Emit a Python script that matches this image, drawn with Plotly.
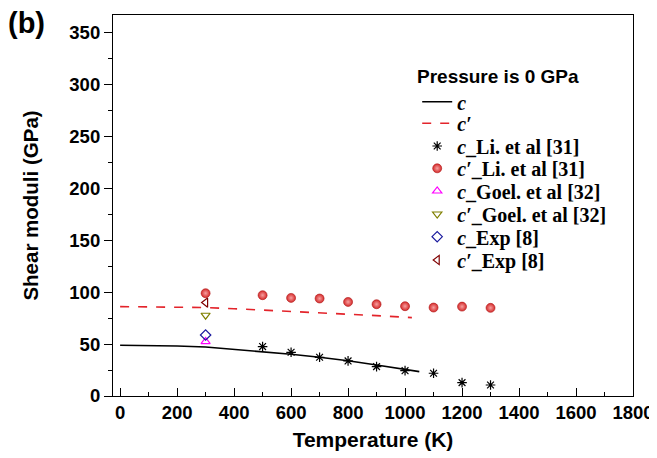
import plotly.graph_objects as go

# Model curves
T_line_c = [0, 100, 200, 300, 400, 500, 600, 700, 800, 900, 1000, 1050]
c_line = [48.9, 48.6, 48.1, 47.2, 45.0, 42.7, 40.2, 37.3, 34.0, 29.9, 25.7, 23.5]
T_line_cp = [0, 100, 200, 300, 400, 500, 600, 700, 800, 900, 1000, 1024]
cp_line = [86.1, 85.9, 85.6, 85.2, 84.1, 82.9, 81.7, 80.3, 79.0, 77.4, 75.9, 75.5]

# Li et al [31]
T_li = [500, 600, 700, 800, 900, 1000, 1100, 1200, 1300]
c_li = [47.6, 42.1, 37.3, 33.8, 28.3, 24.4, 21.9, 12.9, 10.6]
T_li_p = [300, 500, 600, 700, 800, 900, 1000, 1100, 1200, 1300]
cp_li = [99.0, 97.1, 94.5, 93.9, 90.6, 88.4, 86.5, 85.2, 86.1, 84.9]

# Goel et al [32]
T_goel = [300]
c_goel = [52.4]
cp_goel = [77.8]

# Exp [8]
T_exp = [300]
c_exp = [58.8]
cp_exp = [90.0]

x_ticks = [0, 200, 400, 600, 800, 1000, 1200, 1400, 1600, 1800]
y_ticks = [0, 50, 100, 150, 200, 250, 300, 350]

fig = go.Figure()
fig.add_trace(go.Scatter(x=T_line_c, y=c_line, mode="lines", name="<i>c</i>", legend="legend",
                         line=dict(color="black", width=1.6)))
fig.add_trace(go.Scatter(x=T_line_cp, y=cp_line, mode="lines", name="<i>c′</i>", legend="legend2",
                         line=dict(color="#e3242b", width=1.6, dash="dash")))
fig.add_trace(go.Scatter(x=T_li, y=c_li, mode="markers", name="<i>c</i>_Li. et al [31]", legend="legend3",
                         marker=dict(symbol="asterisk-open", size=8, color="black",
                                     line=dict(color="black", width=1.2))))
fig.add_trace(go.Scatter(x=T_li_p, y=cp_li, mode="markers", name="<i>c′</i>_Li. et al [31]", legend="legend4",
                         marker=dict(symbol="circle", size=9, color="#d42a2a",
                                     gradient=dict(type="radial", color="#f7a0a0"),
                                     line=dict(color="#b01818", width=0.6))))
fig.add_trace(go.Scatter(x=T_goel, y=c_goel, mode="markers", name="<i>c</i>_Goel. et al [32]", legend="legend5",
                         marker=dict(symbol="triangle-up-open", size=8, color="#ff00ff",
                                     line=dict(color="#ff00ff", width=1.2))))
fig.add_trace(go.Scatter(x=T_goel, y=cp_goel, mode="markers", name="<i>c′</i>_Goel. et al [32]", legend="legend6",
                         marker=dict(symbol="triangle-down-open", size=8, color="#808000",
                                     line=dict(color="#808000", width=1.2))))
fig.add_trace(go.Scatter(x=T_exp, y=c_exp, mode="markers", name="<i>c</i>_Exp [8]", legend="legend7",
                         marker=dict(symbol="diamond-open", size=8, color="#1a1a9e",
                                     line=dict(color="#1a1a9e", width=1.2))))
fig.add_trace(go.Scatter(x=T_exp, y=cp_exp, mode="markers", name="<i>c′</i>_Exp [8]", legend="legend8",
                         marker=dict(symbol="triangle-left-open", size=8, color="#800000",
                                     line=dict(color="#800000", width=1.2))))

axis_font = dict(family="Liberation Sans, Arial", size=18.5, color="black", weight="bold")

# page body has an 8px margin; positions below are in window pixels
OFF = 8
FIG_W, FIG_H = 657 - OFF, 458 - OFF
PLOT_TOP, PLOT_BOT = 15, 396
PLOT_L, PLOT_R = 113, 633
PW, PH = PLOT_R - PLOT_L, PLOT_BOT - PLOT_TOP
legend_font = dict(family="Liberation Serif, Times New Roman", size=20, color="black", weight="bold")
item_centers = [101.7, 123.3, 146, 168.3, 191, 214, 236.7, 260]
legends = {}
for i, yc in enumerate(item_centers):
    key = "legend" if i == 0 else f"legend{i+1}"
    legends[key] = dict(x=0.585, y=(PLOT_BOT - yc) / PH,
                        xanchor="left", yanchor="middle",
                        bgcolor="rgba(0,0,0,0)", font=legend_font)

fig.update_layout(
    width=FIG_W, height=FIG_H,
    margin=dict(l=PLOT_L - OFF, r=FIG_W - (PLOT_R - OFF), t=PLOT_TOP - OFF,
                b=FIG_H - (PLOT_BOT - OFF)),
    paper_bgcolor="white", plot_bgcolor="white",
    showlegend=True,
    xaxis=dict(
        range=[-25, 1800], tickmode="array", tickvals=x_ticks,
        ticks="inside", ticklen=8, tickwidth=1.2, tickcolor="black",
        minor=dict(dtick=100, tick0=0, ticks="inside", ticklen=4, tickcolor="black", tickwidth=1.2),
        showline=True, linecolor="black", linewidth=1.2, mirror=True,
        showgrid=False, zeroline=False, automargin=False,
        tickfont=axis_font,
        title=dict(text="Temperature (K)", standoff=10,
                   font=dict(family="Liberation Sans, Arial", size=21, color="black", weight="bold")),
    ),
    yaxis=dict(
        range=[0, 367], tickmode="array", tickvals=y_ticks,
        ticks="outside", ticklen=8, tickwidth=1.2, tickcolor="black",
        minor=dict(dtick=25, tick0=0, ticks="outside", ticklen=4, tickcolor="black", tickwidth=1.2),
        showline=True, linecolor="black", linewidth=1.2, mirror=True,
        showgrid=False, zeroline=False, automargin=False,
        tickfont=axis_font,
        title=dict(text="Shear moduli (GPa)", standoff=25,
                   font=dict(family="Liberation Sans, Arial", size=20.5, color="black", weight="bold")),
    ),
    **legends,
)

fig.add_annotation(text="Pressure is 0 GPa", xref="paper", yref="paper",
                   x=(415 - PLOT_L) / PW, y=(PLOT_BOT - 76.7) / PH,
                   xanchor="left", yanchor="middle", showarrow=False,
                   font=dict(family="Liberation Sans, Arial", size=19, color="black", weight="bold"))

fig.add_annotation(text="(b)", xref="paper", yref="paper",
                   x=(6 - PLOT_L) / PW, y=(PLOT_BOT - 5) / PH,
                   xanchor="left", yanchor="top", showarrow=False,
                   font=dict(family="Liberation Sans, Arial", size=29, color="black", weight="bold"))

fig.write_html("out.html")
